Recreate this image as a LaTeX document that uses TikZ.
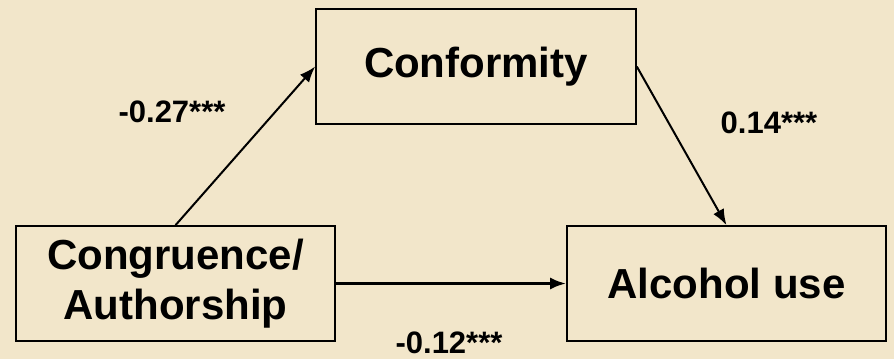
\documentclass[tikz,border=0pt]{standalone}
\usepackage{fontspec}
\setmainfont{Liberation Sans}
\usepackage{tikz}
\usetikzlibrary{arrows.meta}

\definecolor{paper}{RGB}{242,230,202}

\tikzset{
    varbox/.style = {draw, line width=1.6pt, fill=paper, align=center,
        minimum width=319pt, minimum height=115pt, inner sep=0pt,
        font=\fontsize{42}{50}\selectfont\bfseries},
    coef/.style = {font=\fontsize{31}{36}\selectfont\bfseries},
    effect/.style = {line width=2pt, -{Latex[length=16pt,width=12pt]}}
}

\begin{document}
\begin{tikzpicture}[x=1pt, y=-1pt]
        \useasboundingbox[fill=paper] (0, 0) rectangle (894, 359);

        \node[varbox, minimum width=320pt] (conf) at (476, 66.5) {Conformity};
        \node[varbox] (cong) at (175.5, 283.5) {Congruence/\\Authorship};
        \node[varbox] (alc) at (726.5, 283.5) {Alcohol use};

        \draw[effect] (cong.north) -- (conf.west);
        \draw[effect] (conf.east) -- (alc.north);
        \draw[effect, line width=3pt] (cong.east) -- (alc.west);

        \node[coef] (a) at (172, 112) {-0.27***};
        \node[coef] (b) at (769, 123) {0.14***};
        \node[coef] (c) at (449, 343) {-0.12***};
    \end{tikzpicture}
\end{document}
